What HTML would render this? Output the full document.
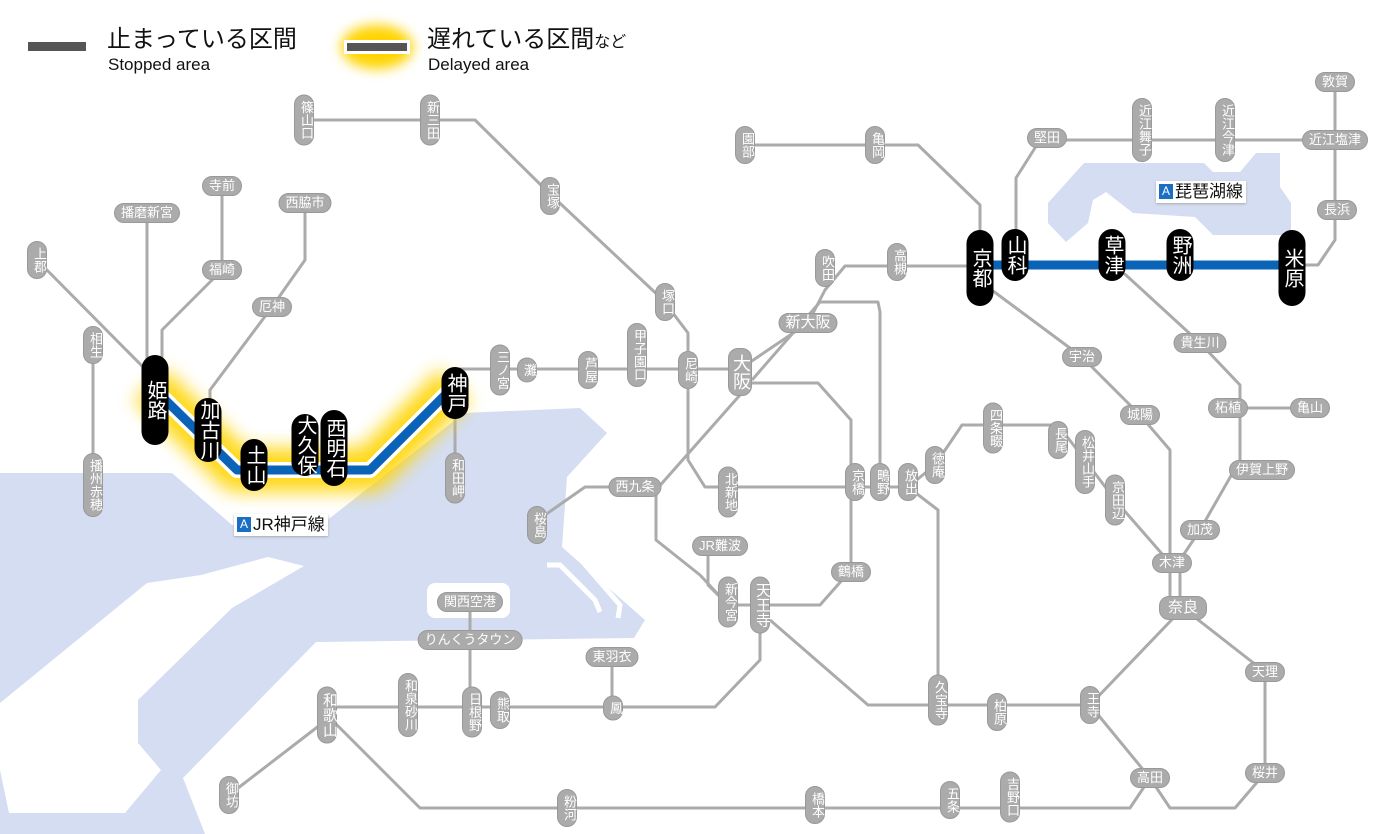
<!DOCTYPE html>
<html><head><meta charset="utf-8">
<style>
html,body{margin:0;padding:0;background:#fff}
#w{position:relative;width:1400px;height:834px;overflow:hidden;font-family:"Liberation Sans","Noto Sans CJK JP",sans-serif}
svg{position:absolute;left:0;top:0}
.s{position:absolute;transform:translate(-50%,-50%);background:#ababab;color:#fff;font-size:13px;line-height:14px;border-radius:10px;border:1px solid #999;white-space:nowrap;text-align:center}
.v{writing-mode:vertical-rl;width:18px;padding:5px 0}
.h{padding:2px 6px}
.b{position:absolute;transform:translate(-50%,-50%);background:#000;color:#fff;font-size:20px;line-height:24px;border-radius:14px;writing-mode:vertical-rl;width:27px;display:flex;align-items:center;justify-content:center}
.lg{position:absolute;color:#111}
.tag{position:absolute;background:#fff;font-size:17px;line-height:20px;padding:1px 3px;color:#111;box-shadow:0 1px 2px #aaa}
.tag i{font-style:normal;display:inline-block;background:#1a6fc4;color:#fff;font-size:12px;width:14px;height:15px;line-height:15px;text-align:center;margin-right:2px;vertical-align:2px}
</style></head><body><div id="w">
<svg width="1400" height="834">
<defs><filter id="bl" x="-20%" y="-50%" width="140%" height="200%"><feGaussianBlur stdDeviation="9"/></filter>
<filter id="bl2" x="-50%" y="-100%" width="200%" height="300%"><feGaussianBlur stdDeviation="6"/></filter></defs>
<polygon fill="#d4ddf2" points="0,473 172,473 232,525 321,525 464,413 580,408 607,433 567,477 562,547 645,620 634,638 316,642 183,778 205,834 0,834"/>
<polygon fill="#fff" points="0,703 147,583 201,575 268,557 304,566 232,608 138,700 138,743 161,770 125,813 9,813 0,770"/>
<rect x="427" y="583" width="83" height="35" rx="8" fill="#fff"/>
<g fill="none" stroke="#fff" stroke-width="5"><polyline points="547,565 560,565 595,600 600,612"/><polyline points="575,553 620,605 618,618"/></g>
<polygon fill="#d4ddf2" points="1084,163 1204,163 1213,172 1240,172 1256,153 1280,153 1280,187 1291,203 1291,235 1213,235 1195,217 1133,213 1106,192 1093,200 1088,223 1066,242 1048,223 1048,203"/>
<g fill="none" stroke="#ababab" stroke-width="3" stroke-linejoin="round">
<polyline points="304,120 475,120 548,192 663,300 688,333 688,460 705,487 908,487"/>
<polyline points="455,369 740,369"/>
<polyline points="740,369 808,323 825,290 845,266 980,266"/>
<polyline points="752,380 820,302 878,302 880,312 880,487"/>
<polyline points="740,383 818,383 851,420 851,570 820,605 728,605 700,575 656,540 656,490 740,395"/>
<polyline points="635,487 585,487 545,515"/>
<polyline points="708,546 708,585 728,605"/>
<polyline points="760,605 760,660 715,707 327,707"/>
<polyline points="612,657 612,707"/>
<polyline points="470,602 470,707"/>
<polyline points="770,620 868,705 1090,705 1183,608"/>
<polyline points="1090,705 1150,778 1170,808 1235,808 1265,773 1265,672 1183,608"/>
<polyline points="327,715 420,808 1130,808 1150,778"/>
<polyline points="320,725 229,795"/>
<polyline points="908,487 938,510 938,705"/>
<polyline points="908,487 935,465 962,425 1058,425 1085,460 1115,500 1170,563"/>
<polyline points="985,285 1082,357 1140,415 1170,450 1170,608"/>
<polyline points="1115,265 1200,343 1240,385 1240,460 1200,530 1180,560 1180,608"/>
<polyline points="1240,408 1310,408"/>
<polyline points="980,266 980,205 918,145 745,145"/>
<polyline points="1016,266 1016,178 1040,140 1335,140"/>
<polyline points="1335,82 1335,240 1318,265 1292,265"/>
<polyline points="37,260 148,372"/>
<polyline points="93,345 93,485"/>
<polyline points="147,213 147,380"/>
<polyline points="222,186 222,270 162,330 162,380"/>
<polyline points="305,203 305,260 272,307 210,390 210,420"/>
<polyline points="455,393 455,478"/>
</g>
<g fill="none" stroke-linejoin="round">
<polyline points="150,385 237,470 370,470 455,385" stroke="#ffd400" stroke-width="44" filter="url(#bl)" opacity=".9"/>
<polyline points="975,265 1300,265" stroke="#ffd400" stroke-width="44" filter="url(#bl)" opacity=".9"/>
<polyline points="150,385 237,470 370,470 455,385" stroke="#fff" stroke-width="16"/>
<polyline points="975,265 1300,265" stroke="#fff" stroke-width="16"/>
<polyline points="150,385 237,470 370,470 455,385" stroke="#0b63b8" stroke-width="9"/>
<polyline points="975,265 1300,265" stroke="#0b63b8" stroke-width="9"/>
</g>
<rect x="28" y="42" width="58" height="9" fill="#555"/>
<ellipse cx="377" cy="47" rx="36" ry="22" fill="#ffd400" filter="url(#bl2)"/>
<rect x="344" y="40" width="66" height="14" fill="#fff"/>
<rect x="347" y="43" width="60" height="8" fill="#555"/>
</svg>
<div class="lg" style="left:107px;top:26px;font-size:24px;line-height:28px">止まっている区間</div>
<div class="lg" style="left:108px;top:55px;font-size:17px;line-height:20px">Stopped area</div>
<div class="lg" style="left:427px;top:26px;font-size:24px;line-height:28px">遅れている区間<span style="font-size:16px">など</span></div>
<div class="lg" style="left:428px;top:55px;font-size:17px;line-height:20px">Delayed area</div>
<div class="tag" style="left:234px;top:514px"><i>A</i>JR神戸線</div>
<div class="tag" style="left:1156px;top:181px"><i>A</i>琵琶湖線</div>

<div class="s v" style="left:304px;top:120px">篠山口</div>
<div class="s v" style="left:430px;top:120px">新三田</div>
<div class="s v" style="left:550px;top:196px">宝塚</div>
<div class="s v" style="left:665px;top:302px">塚口</div>
<div class="s v" style="left:688px;top:370px">尼崎</div>
<div class="s v" style="left:637px;top:355px">甲子園口</div>
<div class="s v" style="left:588px;top:370px">芦屋</div>
<div class="s v" style="left:527px;top:370px">灘</div>
<div class="s v" style="left:500px;top:370px">三ノ宮</div>
<div class="s v" style="left:37px;top:260px">上郡</div>
<div class="s v" style="left:93px;top:345px">相生</div>
<div class="s v" style="left:93px;top:485px">播州赤穂</div>
<div class="s v" style="left:455px;top:478px">和田岬</div>
<div class="s v" style="left:537px;top:525px">桜島</div>
<div class="s v" style="left:728px;top:492px">北新地</div>
<div class="s v" style="left:855px;top:482px">京橋</div>
<div class="s v" style="left:880px;top:482px">鴫野</div>
<div class="s v" style="left:908px;top:482px">放出</div>
<div class="s v" style="left:935px;top:465px">徳庵</div>
<div class="s v" style="left:993px;top:428px">四条畷</div>
<div class="s v" style="left:1058px;top:440px">長尾</div>
<div class="s v" style="left:1085px;top:462px">松井山手</div>
<div class="s v" style="left:1115px;top:500px">京田辺</div>
<div class="s v" style="left:728px;top:602px">新今宮</div>
<div class="s v" style="left:760px;top:605px;font-size:15px">天王寺</div>
<div class="s v" style="left:740px;top:372px;font-size:18px;line-height:20px;width:22px">大阪</div>
<div class="s v" style="left:825px;top:268px">吹田</div>
<div class="s v" style="left:897px;top:262px">高槻</div>
<div class="s v" style="left:875px;top:145px">亀岡</div>
<div class="s v" style="left:745px;top:145px">園部</div>
<div class="s v" style="left:1142px;top:130px">近江舞子</div>
<div class="s v" style="left:1225px;top:130px">近江今津</div>
<div class="s v" style="left:938px;top:700px">久宝寺</div>
<div class="s v" style="left:997px;top:712px">柏原</div>
<div class="s v" style="left:1090px;top:705px">王寺</div>
<div class="s v" style="left:327px;top:715px;font-size:15px">和歌山</div>
<div class="s v" style="left:408px;top:705px">和泉砂川</div>
<div class="s v" style="left:472px;top:712px">日根野</div>
<div class="s v" style="left:500px;top:710px">熊取</div>
<div class="s v" style="left:613px;top:708px">鳳</div>
<div class="s v" style="left:229px;top:795px">御坊</div>
<div class="s v" style="left:567px;top:808px">粉河</div>
<div class="s v" style="left:815px;top:805px">橋本</div>
<div class="s v" style="left:950px;top:800px">五条</div>
<div class="s v" style="left:1010px;top:797px">吉野口</div>

<div class="s h" style="left:147px;top:213px">播磨新宮</div>
<div class="s h" style="left:222px;top:186px">寺前</div>
<div class="s h" style="left:222px;top:270px">福崎</div>
<div class="s h" style="left:305px;top:203px">西脇市</div>
<div class="s h" style="left:272px;top:307px">厄神</div>
<div class="s h" style="left:808px;top:323px;font-size:15px">新大阪</div>
<div class="s h" style="left:635px;top:487px">西九条</div>
<div class="s h" style="left:720px;top:546px">JR難波</div>
<div class="s h" style="left:851px;top:572px">鶴橋</div>
<div class="s h" style="left:470px;top:602px">関西空港</div>
<div class="s h" style="left:470px;top:640px">りんくうタウン</div>
<div class="s h" style="left:612px;top:657px">東羽衣</div>
<div class="s h" style="left:1047px;top:138px">堅田</div>
<div class="s h" style="left:1335px;top:140px">近江塩津</div>
<div class="s h" style="left:1335px;top:82px">敦賀</div>
<div class="s h" style="left:1337px;top:210px">長浜</div>
<div class="s h" style="left:1082px;top:357px">宇治</div>
<div class="s h" style="left:1140px;top:415px">城陽</div>
<div class="s h" style="left:1200px;top:343px">貴生川</div>
<div class="s h" style="left:1228px;top:408px">柘植</div>
<div class="s h" style="left:1310px;top:408px">亀山</div>
<div class="s h" style="left:1262px;top:470px">伊賀上野</div>
<div class="s h" style="left:1200px;top:530px">加茂</div>
<div class="s h" style="left:1172px;top:563px">木津</div>
<div class="s h" style="left:1183px;top:608px;font-size:15px;padding:4px 8px">奈良</div>
<div class="s h" style="left:1265px;top:672px">天理</div>
<div class="s h" style="left:1150px;top:778px">高田</div>
<div class="s h" style="left:1265px;top:773px">桜井</div>

<div class="b" style="left:155px;top:400px;height:90px">姫路</div>
<div class="b" style="left:208px;top:430px;height:64px">加古川</div>
<div class="b" style="left:254px;top:465px;height:52px">土山</div>
<div class="b" style="left:305px;top:445px;height:62px">大久保</div>
<div class="b" style="left:334px;top:448px;height:76px">西明石</div>
<div class="b" style="left:455px;top:393px;height:52px">神戸</div>
<div class="b" style="left:980px;top:268px;height:76px">京都</div>
<div class="b" style="left:1015px;top:255px;height:52px">山科</div>
<div class="b" style="left:1112px;top:255px;height:52px">草津</div>
<div class="b" style="left:1180px;top:255px;height:52px">野洲</div>
<div class="b" style="left:1292px;top:268px;height:76px">米原</div>
</div></body></html>
